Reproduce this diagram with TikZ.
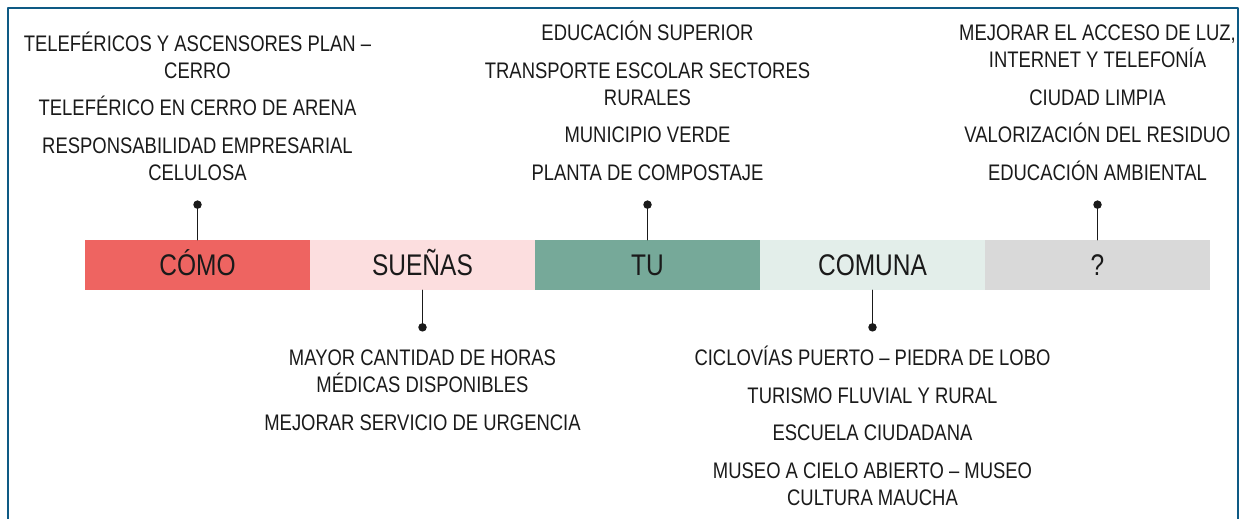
\documentclass[tikz,border=0pt]{standalone}
\usepackage{fontspec}
\setmainfont{Liberation Sans}[FakeStretch=0.82]
\usetikzlibrary{positioning,calc}
\definecolor{FigureRed}{HTML}{EE6461}
\definecolor{FigurePink}{HTML}{FCDEDF}
\definecolor{FigureGreen}{HTML}{76A999}
\definecolor{FigureMint}{HTML}{E3EEEA}
\definecolor{FigureGrey}{HTML}{D9D9D9}
\definecolor{FigureFrame}{HTML}{0E5A84}
\definecolor{FigureInk}{HTML}{1A1A1A}
\tikzset{
  segbox/.style={minimum width=4.5cm,minimum height=1cm,inner sep=0pt,text height=12.1pt,text depth=0pt,text=FigureInk,font=\fontsize{17}{18}\selectfont},
  itemtext/.style={align=center,inner sep=0pt,text=FigureInk,font=\fontsize{12.8}{15.4}\selectfont},
  stem/.style={line width=.85pt,FigureInk}
}

\begin{document}
\begin{tikzpicture}[x=0.02cm,y=0.02cm,line cap=round,line join=round]
  \useasboundingbox (0,0) rectangle (1242,519);
  \draw[FigureFrame,line width=1.4pt,line cap=butt] (8,0)--(8,511)--(1238,511)--(1238,0);
  % the bar
  \foreach \n/\t/\c [count=\i from 0] in {como/CÓMO/FigureRed,suenas/SUEÑAS/FigurePink,tu/TU/FigureGreen,comuna/COMUNA/FigureMint,q/?/FigureGrey}
    \node[segbox,fill=\c] (\n) at (197.5+225*\i,254) {\t};
  % stems
  \foreach \n in {como,tu,q}{
    \coordinate (\n-dot) at ($(\n.north)+(0,35)$);
    \draw[stem] (\n.north)--(\n-dot);\fill[FigureInk] (\n-dot) circle (0.85mm);}
  \foreach \n in {suenas,comuna}{
    \coordinate (\n-dot) at ($(\n.south)+(0,-37)$);
    \draw[stem] (\n.south)--(\n-dot);\fill[FigureInk] (\n-dot) circle (0.85mm);}
  % lists above
  \node[itemtext,anchor=south] (como-list) at ($(como-dot)+(0,24)$) {TELEFÉRICOS Y ASCENSORES PLAN –\\CERRO\\[5.9pt]TELEFÉRICO EN CERRO DE ARENA\\[5.9pt]RESPONSABILIDAD EMPRESARIAL\\CELULOSA};
  \node[itemtext,anchor=south] (tu-list) at ($(tu-dot)+(0,24)$) {EDUCACIÓN SUPERIOR\\[5.9pt]TRANSPORTE ESCOLAR SECTORES\\RURALES\\[5.9pt]MUNICIPIO VERDE\\[5.9pt]PLANTA DE COMPOSTAJE};
  \node[itemtext,anchor=south] (q-list) at ($(q-dot)+(0,24)$) {MEJORAR EL ACCESO DE LUZ,\\INTERNET Y TELEFONÍA\\[5.9pt]CIUDAD LIMPIA\\[5.9pt]VALORIZACIÓN DEL RESIDUO\\[5.9pt]EDUCACIÓN AMBIENTAL};
  % lists below
  \node[itemtext,anchor=north] (suenas-list) at ($(suenas-dot)+(0,-17)$) {\rule{0pt}{12pt}MAYOR CANTIDAD DE HORAS\\MÉDICAS DISPONIBLES\\[5.9pt]MEJORAR SERVICIO DE URGENCIA};
  \node[itemtext,anchor=north] (comuna-list) at ($(comuna-dot)+(0,-17)$) {\rule{0pt}{12pt}CICLOVÍAS PUERTO – PIEDRA DE LOBO\\[5.9pt]TURISMO FLUVIAL Y RURAL\\[5.9pt]ESCUELA CIUDADANA\\[5.9pt]MUSEO A CIELO ABIERTO – MUSEO\\CULTURA MAUCHA};
\end{tikzpicture}
\end{document}
